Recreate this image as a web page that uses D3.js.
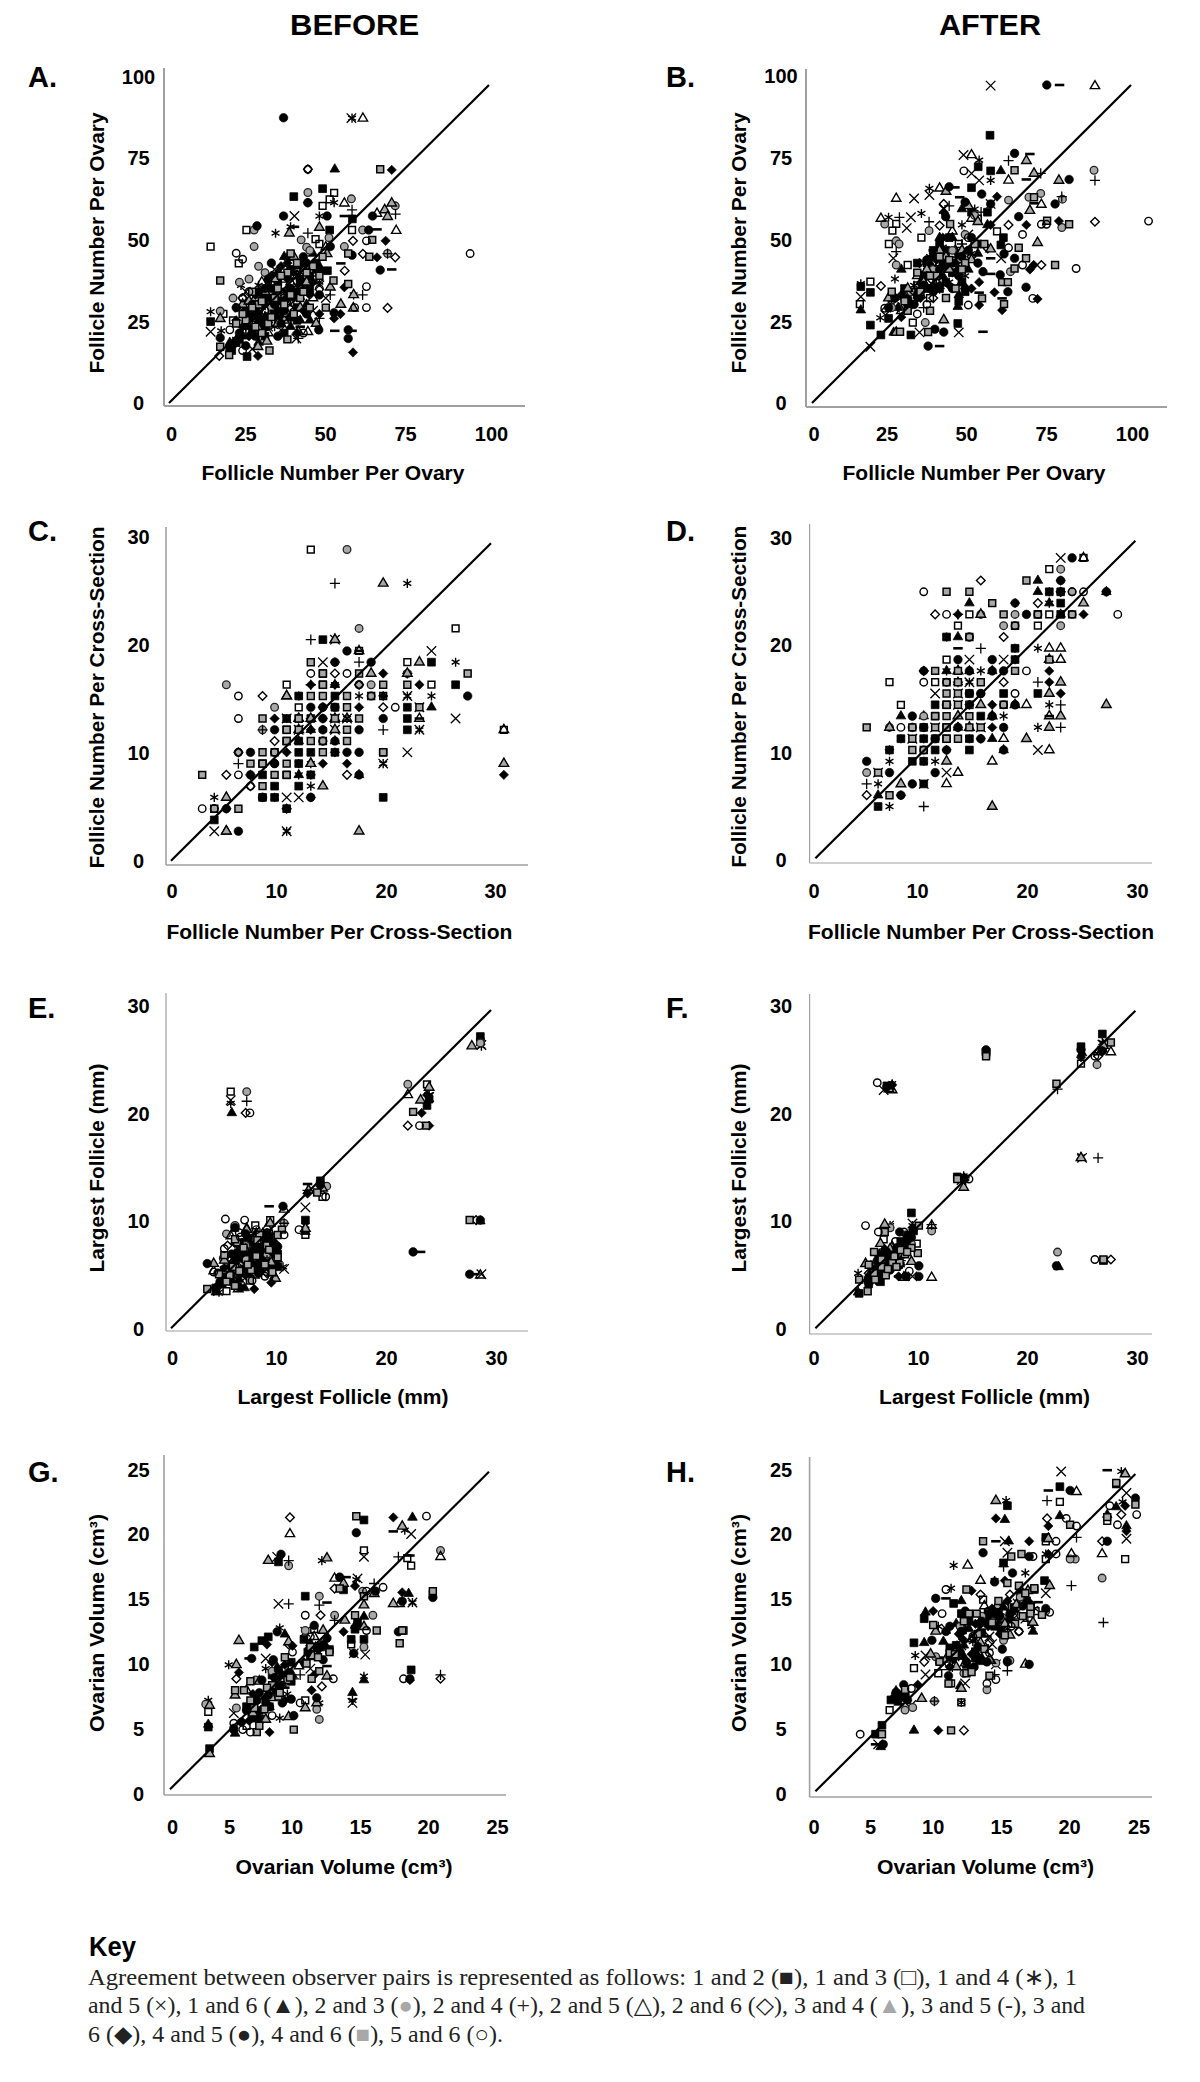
<!DOCTYPE html>
<html><head><meta charset="utf-8">
<script src="https://cdn.jsdelivr.net/npm/d3@7"></script>
<style>html,body{margin:0;padding:0;background:#fff}svg{display:block}text{font-family:"Liberation Sans",Arial,sans-serif}</style>
</head><body>
<svg id="chart" width="1200" height="2082"></svg>
<script>
// Order of series = order of the key: observer pair
const seriesPairs = ["1-2","1-3","1-4","1-5","1-6","2-3","2-4","2-5","2-6","3-4","3-5","3-6","4-5","4-6","5-6"];
const markerKinds = ["squareFill","squareOpen","asterisk","times","triangleFill","circleGray","plus","triangleOpen","diamondOpen","triangleGray","dash","diamondFill","circleFill","squareGray","circleOpen"];
const ticksCount = [0,25,50,75,100];
const ticksSection = [0,10,20,30];
const ticksVolume = [0,5,10,15,20,25];

const panelA = [
[39,64.9,48,67.4,50.2,54.4,57.3,57.9,13,25.6,19.6,16.5,24.4,14.6,49.5,41.6,28,26,34,38,38,46,40,30,22,20,31,33,26,23,36,27,44,36,30,21,42,44,24,29,33,40],
[13,49.2,24.2,54.4,21.8,43.9,51.6,66.1,50.2,64,48,62,45.8,51.5,57.2,54.4,47,50,17,28,20,26,36,42,33,38,25,30,42,38,29,35,37,32,45,41],
[57.2,89.6,51.6,63,47,58.8,38,55.4,33.3,53.4,57.7,34,13,28.7,16.3,22.7,22.5,37,28,37,31,28,36,35,41,41,26,26,33,24,47,38,39,30,21,20],
[57,89.6,39.2,58.8,47,37,13,22.4,39.8,20.3,49,33,24,35,30,33,35,23,41,34,28,22,22,30,37,44,45,29,33,42,26,17],
[51.8,73.5,47.6,41.6,36,46,40,43,30,27,25,24,38,24,33,34,43,31,19,19,28,19,41,26,34,41,45,47],
[43.4,66.2,57,64.2,70.7,62,26.6,54.4,26.6,49.2,41.3,51.3,60.5,54.4,54.8,49.2,43,49,68.3,47,16,28.9,22,38,28,43,25,39,30,41,44,48,50,52,20,33,37,40,32,30],
[57.2,60.7,70.8,59.4,43.4,53.4,60.5,34,50.4,34,47,26.6,40.4,20.3,68.3,47,35,38,29,26,24,22,43,42],
[60.6,89.5,54.8,62.8,65,59.6,71,54.2,43.4,22.4,49,49,29,38,34,31,40,40,25,28,38,38,31,22,45,33],
[43.4,73.5,57.5,51,60.6,46.9,70.7,45.8,54.9,41.6,68.3,29.9,15.7,14.8,23,33,28,29,35,35,41,37],
[69.6,62.8,67.4,60.7,68.3,58.6,37.6,53.4,47,55.2,49.4,46.9,50.4,36.4,53.7,31,57.7,34,57.6,29.8,46,25,40.4,22.4,16,26.5,27.8,17.7,30.6,19.4,33,39,27,33,41,30,36,26,45,43,23,31,39,46],
[54.8,58.8,39.2,55.4,65,54.6,69.6,42,53.7,43.9,51.8,22.7,57.2,22.7,41,24,33,29],
[69.6,73.3,43.4,63,67.7,51,65,45.8,54.8,36.4,53.6,28,51.6,26.6,57.5,15.9,27.8,14.8,33,27,25,21,37,39,44,34,21,26,30,31,47,28,40,22,35,43],
[35.8,89.7,43.4,63,63.6,58.8,35.8,58.8,49.4,58.8,27.5,55.7,62.4,54.4,50.4,49.2,57.2,46.5,66,41.8,51.6,28.4,46.8,23,56,23,56,20.3,16,20.5,21,30,26,31,32,44,38,36,42,46,47,34,30,24,36,29,24,18,43,28,28,35,34,21],
[66,73.5,63.5,51.3,56,47,62.6,46,16,38.5,56,37.4,51.4,38.5,49,30,16,17.7,18.8,15.1,31.4,16.5,37,20,38,47,45,43,41,33,34,36,28,31,31,25,24,26,37,41,21,25,44,30,26,35,47,40,39,28,29,22,33,33],
[43.4,73.5,61.7,51,21,47.1,23,45.2,94.1,47,61.7,36.6,61.7,30,58,30,23,16.5,23,33,25,35,30,29,37,25,42,22,19,23,47,36]
];
const panelAMore = {
0:[27,30,32,36,35,32,38,42,41,38,44,40,30,24,24,25,21,19,36,22,46,44,33,28,40,26],
2:[24,24,35,33,40,37,29,30,44,39],
3:[27,27,32,33,38,31,42,43,31,24],
4:[29,33,37,35,42,36,31,37,26,28,35,27,23,21,39,41,47,43,44,26],
9:[30,35,37,28,43,38,34,25,25,32],
11:[29,25,34,29,39,33,42,29,27,34,32,40,23,24,37,44,45,38,20,18],
12:[28,28,33,31,37,33,40,35,31,39,25,27,35,25,41,39,22,22,38,27,46,42,43,44,30,36,19,17,27,21],
13:[26,30,36,31,42,35,32,27,38,34,35,40,29,32,43,41,23,28,27,24,40,44,48,46]
};
const panelB = [
[55.8,84.2,56,73,52.1,74.3,50,67.7,59.2,49.7,15.3,36.6,18.3,34.8,18.3,24.5,24,26.6,31,21.4,45.7,25,21.6,21.4,60,52,43,52,38,48,47,38,33,44,36,36,50,60,41,44,46,32,29,36,55,60,40,50],
[26.4,56.3,25.2,54.2,24.1,50,34.3,52,18.3,38.2,15,31.1,31.6,25.3,30,43.4,52,58,46,50,33,37,58,54,40,38,37,33,44,47],
[52.4,76.4,56,70,24,58.4,34.3,59.6,36.8,67.5,21.4,26.8,15.3,37.5,26,39,28,33,35,41,41,49,47,56,38,36,45,44,32,37,51,61,25,31,43,38,50,47],
[56,99.8,47.5,78,50,72.2,52.4,70,32,64.3,36.8,65.4,31,58.4,29.7,55,25.5,45.5,15.3,33.4,18.3,17.7,46,22.2,33.7,22.2,41.3,61,59.3,45.5,56,62.6,36,39,42,42,49,53,26,30],
[59.2,73,47,61,38,46,40,52,28,42,46,34,45.7,30.3,15.3,29.2,25.6,22.2,34,38,42,43,55,56,30,33],
[88.4,73.2,78.5,64.1,71.7,65.9,68,64.7,61.6,63.8,22.8,56.3,78.3,55.2,36.7,54.2,26.4,51,27.3,50,26.4,43.4,62.2,41.3,35.5,25.3,48,53,44,48,51,59,38,42,31,35,25,30],
[61.6,76.2,71.7,72.2,88.7,70,78.3,64.9,27.4,58.4,36.7,57,26.4,47.6,43,62,53,60,47,50,40,36,35,30],
[88.7,99.7,50,78,61.6,70,26.4,64.3,40,67.5,71.9,62.4,21.6,58,44,54,50,58,33,40,40,44,47,38,28,29],
[40,55.8,41.3,62.6,61.6,56,55.1,48.6,71.9,43.4,88.7,57,21.6,36.8,23,29,38,33,50,46,32,35],
[67.2,76.2,69.6,72.2,77.4,70,42,66.5,68.3,60.5,70.7,50.4,56,48.4,41.3,26.1,26.4,22.2,49,62,47,48,35,38,40,48,30,36,24,33,52,57,43,42],
[67.2,70.3,68.3,78.3,44.8,67.8,46.3,64.7,69.6,62.8,77.6,100,40,17.9,53.6,22.4,52.4,34.7,59.6,32.9,56,40.6,56,45.5,38,48],
[58,64.9,41.3,60,67.2,56,77.4,57.2,68.3,42,69.5,43.4,70.7,32.7,57.2,34.8,52.4,30.8,59.6,29.2,52.4,38,56,56,45,44,34,33,48,36,40,37,28,27],
[73.6,100,63.5,78.5,43,68,53.2,65.7,48,63.2,56,62.6,76.2,62.6,80.6,70.3,41.9,58.6,64.8,58.6,60.2,46.9,63.5,45.5,67.1,36.4,61.4,35,53.6,41.3,59,40.3,36.4,17.9,38.5,23.2,41.3,22.3,38,46,33,34,46,40,44,36,30,31,50,52,24,30],
[63.5,73.2,73.7,57.3,69.6,64.7,80.6,56.2,43.3,56.3,64.8,48.8,67.1,45.5,63.5,42.3,76.2,43.4,60.2,31.1,53.3,32.9,59.6,38,61.4,38,36.4,22.3,27.6,22.4,54,50,48,44,39,40,34,35,42,33,25,35,30,29,37,29],
[47.6,73,66,53,71.9,56.2,73.5,56.2,61.6,48.8,66,43.4,82.8,42.3,105.5,57.2,69.2,32.9,49,30.8,22.8,29.8,49,52,36,31,33,28]
];
const panelBMore = {
0:[35,40,38,42,42,48,44,41,48,44,33,35,36,44,52,50,46,46,30,32,40,36,25,33,48,35],
2:[39,39,44,41,30,34,37,46,48,40],
3:[40,40,35,44,46,48,30,31],
4:[37,44,41,40,34,36,45,48,49,42,38,37,27,30,44,52,52,47],
9:[42,46,36,42,46,45,50,45,34,34],
11:[39,45,43,37,36,40,46,42,33,33,50,36,28,34,41,52],
12:[35,37,40,42,44,44,38,35,47,46,32,31,42,38,48,36,36,45,26,33,52,44,49,48],
13:[37,40,43,45,33,41,47,42,40,46,29,32,51,50,45,36]
};
const panelC = [
[13,20,22,18,13,17,13,16,24,16,11,15,14,15,14,14,20,14,10,13,12,13,20,13,10,12,20,12,10,11,11,11,11,10,12,10,14,10,18,10,8,9,11,9,8,8,10,8,12,8,9,7,11,7,8,6,9,6,18,6,10,5,4,4],
[12,28,16,19,20,18,22,16,24,21,10,16,11,14,28,12,11,13,18,15],
[20,25,24,18,20,17,14,16,11,15,16,15,20,15,22,15,10,13,15,13,13,12,21,12,11,9,18,9,12,9,11,8,12,7,4,6,8,6,9,6,10,3],
[22,19,13,18,20,15,21,14,10,13,24,13,14,12,15,13,11,12,21,12,14,20,14,13,20,10,18,9,10,6,11,6,4,3,10,3],
[14,16,22,14,11,13,12,12,14,11,11,8,16,8,5,3,11,11],
[15,28,16,21,9,14,20,17,5,16,16,16,17,16,8,12,13,11,9,10,6,10,9,9,4,5],
[14,25,12,20,16,18,20,17,12,13,12,16,18,12,6,9,7,8,8,12],
[14,20,16,19,10,15,21,13,28,12,5,3,15,13,12,9],
[14,17,8,15,18,14,9,11,5,8,6,10,7,7,15,8,10,5,16,16],
[18,25,14,20,21,18,17,17,20,17,10,15,12,13,11,13,14,13,14,12,12,9,28,9,13,7,5,6,16,3,5,3,11,12],
[16,19,21,13],
[14,18,18,17,21,16,18,15,13,14,16,14,9,13,13,13,12,12,14,10,10,10,13,9,15,9,12,8,28,8,5,5,12,6,13,14,12,16,14,16],
[15,19,14,18,17,18,12,14,13,14,13,13,18,13,9,12,13,12,16,12,14,11,7,10,15,10,16,10,9,9,7,8,25,15,14,14,16,8,12,6,8,6,5,5,6,3],
[12,18,13,17,16,17,25,17,18,16,20,16,12,15,13,15,15,15,17,15,15,14,21,14,8,13,11,13,16,13,10,12,11,12,15,12,10,11,12,11,13,11,15,11,8,10,9,10,13,10,18,10,7,9,8,9,10,9,3,8,9,8,10,8,8,7,4,5,6,5,14,13,13,16],
[12,17,15,17,16,16,6,15,19,14,17,15,6,13,3,5,6,8,7,7,9,10,6,10,13,11,4,5]
];
const panelD = [
[22,24,21,24,22,23,22,22,12,20,18,19,18,18,14,15,17,15,20,15,11,14,12,14,14,14,15,13,11,13,10,12,12,12,8,11,10,11,11,11,12,11,14,11,7,10,11,10,14,10,9,9,10,9,10,7,6,5],
[24,27,21,26,14,22,21,22,13,21,20,21,12,18,7,16,11,16,8,14,20,22],
[21,24,21,23,12,20,18,19,20,19,12,17,15,17,14,16,21,14,17,13,20,12,14,11,8,11,10,11,7,9,10,9,11,9,6,7,7,5,18,18],
[22,27,14,18,17,18,11,15,13,15,14,16,15,12,13,14,11,12,20,10,12,8,6,8,10,7,9,11],
[20,25,20,24,26,24,21,23,14,23,22,22,13,20,21,18,12,17,13,17,14,17,16,17,13,16,8,13,10,13,16,11,17,10,6,6,13,12],
[22,26,23,24,18,23,15,22,18,22,17,21,22,21,10,17,15,15,18,14,10,13,14,14,7,12,5,8,14,20],
[15,19,20,16,22,14,22,12,5,7,10,5,13,22,13,16],
[24,27,21,19,22,19,22,18,21,13,18,14,21,10,16,9,13,8,12,7,16,13,17,11,19,14],
[15,25,20,23,11,22,17,20,10,17,17,16,5,6,22,24],
[24,23,15,22,21,18,22,16,21,15,26,14,22,13,21,12,14,12,15,14,7,12,19,11,12,9,8,7,16,5,13,13,13,17],
[21,13,12,14,13,19],
[18,23,22,25,13,22,24,22,21,17,21,16,22,15,16,14,14,14,10,17,13,12,16,12,15,11,12,10,7,10,8,6,26,24],
[23,27,22,25,26,24,19,22,13,18,16,18,14,17,16,17,17,17,15,15,18,14,9,13,16,13,9,12,10,12,13,12,17,12,11,11,15,11,12,10,17,10,5,9,7,8,11,8,9,7,8,6,14,15],
[19,25,12,24,14,24,16,23,17,22,20,22,23,22,18,21,14,20,11,17,18,17,13,17,21,18,12,16,13,16,15,16,12,15,13,15,12,14,13,14,17,14,11,13,12,13,14,13,5,12,9,12,11,12,12,12,14,12,15,12,9,11,12,11,13,11,9,10,10,10,6,8,7,6],
[10,24,22,24,24,24,23,24,12,22,20,22,27,22,23,22,18,21,14,20,19,17,10,16,12,16,18,15,17,14,8,12,10,10]
];
const panelE = [
[29,27.5,29,27,24,21,24.2,21.6,12.6,10.2,14,13.9,4.2,3.8,6,9.5,7,7,8,6,9,8,10,5.8,5,5,6,6.2,7.5,8.5,4.8,4.2,9.4,7.4],
[5.6,22.3,24,23,12.6,8.8,14.2,12.4,9.3,10.2,7.9,9.7,5.2,3.5,6.5,5.5,8.5,7.8,5,6.5,9.8,6.5],
[5.6,21.2,29.1,26.6,24.2,22,12.6,9.7,10.5,5.8,4.5,3.4,5.5,5.5,7.5,8,9,9,7,6,8.5,5.2,6,4.2],
[5.6,21.5,29.1,26.7,24.2,21.8,12.6,11.4,29.1,5.1,10.6,5.6,4.4,3.5,8,7.5,5.5,6.8,9.5,8.5,7,4.8,14.2,13],
[5.7,20.3,29,10.1,12.6,9.1,6.9,3.8,9.7,4.9,4.2,3.4,6,7,8,9,9.2,6.2,5.4,5,7.5,6.3],
[7.1,22.3,22.2,23,29,26.9,14.6,13.4,6,9.7,5.2,8.9,10.6,9.9,7,7.8,9,7,6,5.8,8,8.4,4.9,6.6],
[7.1,21.4,10.6,9.9,8,9,6.5,7,9,6.4,5.6,5.2,12.8,13],
[22.2,22,5.6,8.7,29,5,10.6,11.2,7.1,9.4,9,9.5,6,6,8.3,5.6,4,5.4,7.8,7.2],
[7,20.3,22.2,19.1,28.6,10.2,8,7,6.2,5,9,5.2,5.3,7.8],
[28.2,26.6,24.2,22.7,23.4,21.5,12.9,13,12.6,9.4,14.2,13.2,9.3,9.9,7.1,9.3,4,6.1,6.3,3.7,8.2,8.3,9.4,6.2,5.2,5.4,7,7.4,9.8,4.7],
[9.2,11.5,12.8,13.6,23.4,7.2,28.5,5.1,7,8.4,5.8,6.3,8.8,7.7],
[23.5,20.3,24.2,19.1,24,22,12.8,12.7,7.8,3.7,9.4,4.3,7.4,4.9,14,13.4,6,8,8.8,6.2,5,5.7,9.6,7],
[3.4,6.1,10.5,11.5,29,10.2,22.7,7.2,28,5.1,14,13.7,6,9.5,6.4,3.9,8,7,9,9,7,5.5,5,4.6,10,7.7,6.5,6.6,4.4,5.2],
[22.7,20.4,23.9,19.1,28,10.2,13.7,12.8,10.4,9.3,4.5,5.1,3.4,3.7,5,6.9,6,4,7,6.5,8,6.8,9,7.8,7.5,5.5,9.5,5.3,6.2,8.1,8.3,8.8,5.5,5,10,6.7,6.8,7.6],
[7.4,20.3,23.3,19.1,5.1,10.3,6.9,10.2,12,9.3,14.5,12.4,10.6,8.8,4,5.3,5,7.5,6.5,8.6,8.8,4.9,9.6,8,7.6,4.5]
];
const panelEMore = {
0:[5.5,4.5,6.5,5.2,7.2,6.2,8,7.5,8.6,8,9.2,8.5,6,6.8,7,8,5,5.5,9.6,6,8.4,5.8,10,7],
2:[6,5.2,7.4,7.3,8.3,6.2,9.5,8.9],
3:[6.7,5.8,7.9,6.6,5.9,4.6,9,7.6],
4:[6.4,4.6,7.5,5.7,8.8,7,5.6,6,9.4,8,8,8.6,6.8,7.5,4.8,4.4,10,6.5],
9:[6.6,6.6,7.8,5,5,6.4,8.6,8.9,9.4,5.2],
11:[5.8,4.2,7,5,8.5,6.5,6.2,7.2,9.2,5.6,7.8,7.9,5.3,4.8,9.8,8],
12:[5.6,5,6.8,5.6,7.6,6.8,8.4,7.3,9,8.3,6.4,7.9,4.6,4.4,8.2,5.2,9.6,7.2,7,8.9,5.7,7],
13:[5.8,5.8,7.2,6,8.8,6,6.4,5.4,8.1,8.3,9.2,7.4,7.4,4.5,5.2,4.4,6,8.4,10,8.8],
14:[8,9.3,6.4,9]
};
const panelF = [
[6.7,22.9,16,26.1,24.9,26.6,26.9,27.8,27,6.4,13.3,14.3,9,10.9,4.1,3.3,6.1,4.4,7,7,8,8.2,6,5.7,8.7,8.8,9.2,9.2,5,4.6,7.4,6],
[16,25.9,24.9,25,5.5,5.5,7,6.2,8,7.4,9.5,8,6.4,8.4],
[7.2,23.1,26.9,27,13.9,14.4,9.1,9.7,4,5.2,24.9,16.2,7,9.7,6.5,6.3,8,6,8.8,9,6,4.8,5.2,6],
[6.4,22.5,26.9,26.8,13.7,14,9.1,9.9,9.1,4.9,25,16.1,6.9,9.7,7.8,6.7,6,5.4],
[7,22.8,25,26,22.8,5.8,4,3.4,26.9,26.4,7,6.5,8.2,7.9,6,6,5,5],
[16,26,22.7,7.2,26.4,24.9,10.9,9.2,7,9.5,8.2,7,5.3,5.8,7.6,6,9,8],
[22.7,22.6,26.5,16.1,10.9,9.8,14,14.2,6,7,8,6.4],
[7.2,22.5,27.7,26.1,10.9,4.8,26.5,26.1,10.9,9.7,8.3,4.8,6.2,5.5,7.2,7.7],
[26.5,25.7,27.7,6.5,5,5.2,7,5.8],
[6.9,22.6,27,26.7,24.9,16.1,13.9,13.3,6.1,8,6.5,9.8,4.7,6.1,8.3,4.8,9,6.3,7.2,7,5.6,4.6,8.4,8.2],
[7.8,4.9,6,4.9],
[7.2,23,24.9,25.6,26.9,26.2,7.8,4.9,14,14,9.2,9.3,8,6,6.5,7.5,5,4.2],
[6.7,22.8,16,26.3,24.9,26.3,26.9,26.2,22.6,5.9,9.7,4.9,9.7,5.9,8.5,4.9,7.9,9.1,13.9,14.2,6.6,7.2,5.8,5,7.6,7.6,8.6,8.7,7,5.5],
[16,25.7,22.6,23.1,27.7,27,27,6.5,13.3,14.1,9.7,9.7,6.5,9.1,9.6,7.1,5.5,7.2,4.1,4.6,4.9,3.5,6.2,6.5,7.2,6.2,8.4,7,5.5,5.2,7.9,6.2,6.6,5,5,6,9,7.6],
[5.8,23.2,26.2,25.7,26.2,6.5,14.4,14.1,4.7,9.7,5.9,9.1,8.3,9.1,8.8,5.4,7.5,8.2]
];
const panelFMore = {
0:[5.5,5,6,6,6.5,5.5,7,6.5,7.5,7,8,7,8.5,8,6,4.5,6.5,7,7.8,6,5,4.2],
2:[6.4,6.6,7.7,7.1,8.9,8.5],
3:[6.1,5.1,7.3,6],
4:[5.2,5,5.8,5.8,6.6,6,7.2,6.2,7.8,7.4,8.4,7.6,6,7,5,4.6],
9:[5.8,5.3,7,7.5],
11:[5.5,5.6,6.3,6.2,7,5.8,7.6,6.5,8.2,8,6.8,7.2],
12:[5.8,6.4,6.4,5.6,7.1,6.8,7.9,7.7,8.6,8.3,9,8.6,6.7,6.1],
13:[6.2,5.8,7.4,6.8,8,7.4,6.8,5.6,5.6,4.6,7.6,5.8,8.6,7.2]
};
const panelG = [
[15.2,21.2,8.5,17.9,10.6,15.2,14.7,13.1,15.2,11.8,14.2,11.8,18.9,9.4,3,4.9,3.1,3.2,6.6,11.2,7.7,12,7.2,11.7,13.6,15.7,14.5,12.6,8,9,6,6.5,9.5,8.5,11,10.5,7,5.5,10.5,11.8,12.5,11],
[15.2,18.8,18.6,18.2,18.9,17.6,14.2,11.4,3,6.1,18.3,12.5,20.6,15.4,10.6,7,7.8,6.5,11.3,12.6,6,5,9,9.4],
[11.9,18,18.4,20.4,8.6,12.7,4.6,9.8,3,7,14.3,7,15.2,8.9,19,14.7,14.6,16.5,11.7,6.8,8.6,5.6,7.5,9.5,11,10.8,9.2,7.5],
[8.4,18.3,15.2,18.3,18.9,20.1,8.5,14.6,14.7,16.6,7.5,10.3,14.3,6.8,15.3,10.6,14.4,10.7,19,14.7,5,6,10.6,12.4,8.8,9,11,9.5],
[19,21.4,14.5,12.9,15.2,13.6,18.7,15.4,15.2,8.6,14.3,7.6,3,5.1,5.1,4.4,8.3,8.2,9,12.2,6.7,7,11.4,11.2,7.8,6.5],
[21.2,18.8,9.3,17.6,11.7,15.2,12.9,13.7,15.9,13.7,15.1,15.6,15.2,11.2,11.7,5.5,11.5,6.3,2.8,6.7,10.6,12.5,8,9.3,5.2,6.4,6.7,8.6],
[9.3,18,17.9,18.3,16,16.2,9.3,14.6,11.7,14.5,12.9,13.3,10.2,9,21.2,9,9.7,8.7],
[9.4,20.1,21.2,18.3,12.9,16.6,10.1,9.7,11.3,12,6,7.8,18,14.6,7.2,6],
[9.4,21.4,12.9,15.8,11.8,13.7,21.2,8.7,11.9,8.1,9.3,11.4,5.2,8.7,11.6,11],
[7.7,18,12.3,18.2,18.2,20.7,13.6,16.2,16,15.4,17.5,14.6,15.2,14.5,13.7,13.3,15.2,12.8,5.4,11.7,5.2,9.8,5.1,7.4,3.1,6.6,3.1,2.8,9.3,5.7,10.6,6.4,11.5,6.8,12.3,8.9,12,12.5,9.3,11.6,6.5,6,7.5,5.5,11.2,10.5],
[18.8,18.4,17.5,20.3,13.8,16.7,12.3,14.7,12.3,9.7,6.2,10.3,7,6.2,9,8],
[17.5,21.4,13.6,12.4,14.5,16,18.2,15.5,18.8,8.6,7.8,4.5,7.6,11.4,5.4,9.2,8,10,11.1,7.8,11.6,11,6.5,7.5,9,7,5,4.6,9.6,11.3],
[14.6,20.2,8.7,18.5,13.3,16.7,16.1,15.6,18.2,14.8,20.6,15.1,17.9,12.4,11.3,12.9,14.4,10.7,6.4,10.3,8.1,10.2,8.4,12.4,18.8,8.7,9.7,5.8,12.3,11.9,5.6,5.3,7.2,8.6,9.5,7.1,11.5,7.2,6.8,7,8.5,9.4,12,10.2,5,4.8,7.8,6.5],
[14.6,21.5,13.3,15.8,15.2,15.2,20.6,15.6,18.2,12.5,18,11.5,16.2,12.5,14.5,13.7,11.7,9.3,11.1,8.7,9.7,4.7,6.8,4.5,5.1,7.8,5.8,7.8,6.3,8.5,9,10.4,12.5,10.8,11,11.2,6.3,7,7.4,6.3,8.5,7.3,7,5,9.2,8.6,8,8.2],
[20.1,21.5,16.7,15.9,15.4,15.6,15.4,12.5,12.8,8.7,10.6,13.7,10.2,6.8,18.3,8.7,9.6,10.8,6.3,4.5,5.7,4.7,8,5.8,5,5.2,8.8,8.2,11,12]
];
const panelGMore = {
0:[7.5,7,8.3,7.8,8.8,9,7,6.2,9.5,10,10.8,10.8,11.8,11.2,6.5,5.6],
2:[8.2,9,7.5,6.7],
3:[8.6,9.4,11.5,11],
4:[7.8,8,8.4,9.6,9.6,9,6.8,6,11,11.5,12.2,11.3],
9:[8,7.2,7,8.5],
11:[7.3,6.4,8.7,8.2,9,9.8,10.5,10,11.3,9,6.2,5.4],
12:[7,7.6,8.2,8.8,9.3,9.2,7.7,7.4,10.9,11,12,11.4,6,6.2,8.8,6.8],
13:[7.6,8,8.6,7.6,9.4,8.8,6.6,6.4,11.6,10.4,10.7,9.9]
};
const panelH = [
[19.1,24,15,22.5,18,20,14.7,18,17.9,16.6,17.1,15.9,10.8,14.8,8.5,13.6,7.7,11.7,5.2,5.2,4.7,4.5,5.9,7.2,11.4,14,14.3,14,10.5,10.8,12.5,10.5,14.5,12.8,16,15.7,13.4,13.6,9.7,10.3,11.5,12.7],
[19.1,22.8,23.5,24.2,24.2,18.3,22.8,21.3,18,18.3,18,19.7,7.7,9.7,10.6,8.5,5.8,6.4,11.4,7,16.2,15,17.2,14.2,13.1,15.1,11,11.2,14.8,14.6,9.6,9.3],
[23.9,25.2,14.9,22.9,24,22.8,18,18.7,10.8,17.8,10.6,16,14,16.6,16.4,17.2,17.1,14.4,7.8,10.7,11.4,7,13.1,13.6,15,12.8,10.8,11,12.3,11.8,15.8,14.2,9.6,13,16.9,13],
[19.2,25.2,24.3,23.5,24.3,19.9,14.8,19.7,15,18.8,18,15.6,8.6,10.7,8.6,9.2,11.7,8.5,7.5,6.8,14.1,10,10.2,12.8,12,13.6,16.4,13.6,11.4,11.5,13.6,12.2,15.2,14,4.9,3.7],
[14.8,21.4,19.1,21.7,15.1,19.7,22.8,21.8,23.5,22.4,24.3,20.9,17,12.6,11.4,15,8.6,14.1,8.5,11.7,7.7,4.8,11.3,8.3,6.3,7.9,5.1,3.5,11.5,13,10,11.8,13.5,13.3,11.6,10.6,14.7,14.5],
[22.4,16.8,20.3,18.3,19.9,18.3,14.7,11.9,15,10.3,14.1,10.1,13.4,8,9.3,7.1,7,6.4,7.6,6.6,18,14.2,13,13.8,11.3,13,9.4,10.6,16,15.3,14.6,13.7,11.6,9.3,15.2,10.3],
[18.1,22.9,20,16.2,20.4,20,22.5,13.3,14.7,17.7,15,9.5,14,9.2,9.3,7.1,10.7,9.8,13.5,11.2,16.6,13.4],
[20.4,23.6,11.9,17.8,12.9,16.6,22.4,18.7,20,18.7,16.4,10,18.2,19.9,15.5,13.8,12.2,12,10,9.8,13.2,14.6],
[18.1,21.5,23.9,21.8,22.4,19.7,12.9,15.5,15.9,12.6,13.6,11.7,11.6,4.8,15.2,15.5,8.5,10.2,12.7,10.6],
[14.1,22.9,24.2,25,18.2,19.9,18.3,16.2,9.4,12.6,9,10.8,8.3,7.3,15.2,12.3,17,13.3,13.7,10.3,11.4,8.1,10.2,10.4,16.6,15.8,14.2,14.6,11.7,10.1,12.9,11.7],
[22.8,25.3,18.2,23.7,14.1,19.7,10.2,15.2,4.7,3.7,17.4,14.9,13.4,12.2],
[24.2,22.5,24.3,20.5,14.1,21.5,18.2,20.9,16.7,19.7,18.2,18.7,12.2,15.8,9.2,14.2,8,8.4,9.6,4.8,13.5,13,11.2,12.4,15.5,14.2,10.5,9.8,14.8,16.6,6.5,7.5,16.8,14.8],
[25,23.1,19.9,23.7,22.8,19.7,13.1,18.8,15.4,17.2,16.7,18.5,9.4,15.2,10.2,12.6,9.1,11.9,6.9,8.4,5.3,3.7,16.7,10,15,10.2,10.4,9.1,14.4,13.8,14,16.5,18,14.4,12.8,13.2,11.4,12.6,10.5,10.6,11.8,10.2,13.4,10.2,7,7.6],
[22.8,21.6,25,22.6,23.5,24.3,19.9,21,13.1,19.7,15.3,18.5,16.1,18.7,17.1,16,11.8,15.9,17.7,13.9,9.2,13.1,5.2,4.5,7,8,10.4,8.5,10.6,4.8,13.6,9.1,15,16.4,15.9,16.2,12,14,13.8,13.3,10.5,10.9,12.7,12.4,14.8,12.3,16.2,13.8,9.7,10.2,11.8,9.3,16.8,14.5],
[25.1,21.8,23,22.5,23.6,21,19.6,21.5,20.4,20.9,18.8,19.7,18.8,18.7,17,18.5,10.2,15.9,9.9,14,3.5,4.5,18.3,14.1,13.6,10.9,14.1,8.8,13.4,8.5,7.5,8.1,15.9,12.6,12.3,12.2,13.5,14.2,15.3,13]
];
const panelHMore = {
0:[11,11.5,12,13.4,13.5,14,14.5,13.5,15.5,14.5,12.5,11,11.8,10,14,13,16.5,15,10.5,11.3,13,12.5,6.2,7.3,6.5,7.6,7,7.4],
2:[14.2,13.6,12.5,12,11.2,10.6,15.4,13.6],
3:[12.8,12.9,13.8,11.6,15.8,14.8,7,7],
4:[12,12.8,13,10.5,14.2,13,11,13.2,15,13.5,11.6,11.5,12.8,10.2,6.5,7,7,8],
9:[13.6,10.4,12,9.4,14.8,13.2,15.7,14.7,11,9.8],
11:[11.5,12,12.5,13.2,13.8,14.4,15,15,10.8,10.4,12.2,10.8,14.4,12.4,6.6,7.3],
12:[11.3,11,12.7,11.4,14,14,15.2,14,13,13.4,10.5,13,11.7,14.2,16.2,14.6,12.4,9.8,14.6,11.2,6.3,7.8,7.2,7.2],
13:[11.6,13.4,12.6,14,14.3,15,15.6,13.2,16.8,14,13.2,11.2,10.9,10.8,12.2,9.4,16.4,15.6]
};
const withMore = (base,more)=>base.map((s,i)=>s.concat(more[i]||[]));

// Layout: plot rectangle (axes), printed tick-label positions, diagonal end points
const panelLayout = [
 {key:"A.",lx:28,ly:87,pts:withMore(panelA,panelAMore),grid:false,ticks:ticksCount,dmax:100,px:[164,525],py:[406,68],tx:[171,245,325,405,491],ty:[402,321,239,157,76],tickY:434,tickX:138.5,diagX:[169,489],diagY:[403,85],title:"Follicle Number Per Ovary",tcx:333,tcy:472,tw:263,ycx:96,ycy:243,yw:261,axisW:2},
 {key:"B.",lx:666,ly:87,pts:withMore(panelB,panelBMore),grid:false,ticks:ticksCount,dmax:100,px:[806,1167],py:[407,69],tx:[813.5,886.5,966,1046,1132],ty:[402,321,239,157,75],tickY:434,tickX:781,diagX:[812,1131],diagY:[403,85],title:"Follicle Number Per Ovary",tcx:974,tcy:472,tw:263,ycx:738.5,ycy:243,yw:261,axisW:2},
 {key:"C.",lx:28,ly:541,pts:panelC,grid:true,ticks:ticksSection,dmax:30,px:[166,528],py:[865,527],tx:[171.5,276,386,495],ty:[860,752,644,536.7],tickY:890.7,tickX:138.5,diagX:[171,491],diagY:[860.7,543.3],title:"Follicle Number Per Cross-Section",tcx:339.4,tcy:931.7,tw:346,ycx:96,ycy:697.5,yw:342,axisW:1.6},
 {key:"D.",lx:666,ly:541,pts:panelD,grid:true,ticks:ticksSection,dmax:30,px:[809.6,1152],py:[863,524],tx:[813.5,917,1027,1137],ty:[859,752,644,537],tickY:890.7,tickX:781,diagX:[815.4,1135.4],diagY:[858.3,540.7],title:"Follicle Number Per Cross-Section",tcx:981,tcy:931.7,tw:346,ycx:738.5,ycy:696.7,yw:342,axisW:1.2},
 {key:"E.",lx:28,ly:1018,pts:withMore(panelE,panelEMore),grid:false,ticks:ticksSection,dmax:30,px:[166,528],py:[1331,993],tx:[172,276,386,496],ty:[1328,1220,1113,1005],tickY:1358,tickX:138.5,diagX:[171,491],diagY:[1328.3,1010],title:"Largest Follicle (mm)",tcx:343,tcy:1396,tw:211,ycx:96,ycy:1168,yw:209,axisW:1.2},
 {key:"F.",lx:666,ly:1018,pts:withMore(panelF,panelFMore),grid:false,ticks:ticksSection,dmax:30,px:[809.6,1152],py:[1334,994],tx:[813.5,918,1027,1137],ty:[1328,1220,1113,1005],tickY:1358,tickX:781,diagX:[815.4,1135.4],diagY:[1328.3,1010.7],title:"Largest Follicle (mm)",tcx:984.6,tcy:1396,tw:211,ycx:738.5,ycy:1168,yw:209,axisW:1.2},
 {key:"G.",lx:28,ly:1482,pts:withMore(panelG,panelGMore),grid:false,ticks:ticksVolume,dmax:25,px:[164,506],py:[1795,1455],tx:[172,229,291.5,360,428,497],ty:[1793,1728,1663,1598,1533,1469],tickY:1827,tickX:138.5,diagX:[170,489],diagY:[1789.3,1471.7],title:"Ovarian Volume (cm³)",tcx:344,tcy:1866,tw:217,ycx:96,ycy:1623,yw:218,axisW:1.6},
 {key:"H.",lx:666,ly:1482,pts:withMore(panelH,panelHMore),grid:false,ticks:ticksVolume,dmax:25,px:[809.6,1152],py:[1797,1457],tx:[813.5,870,932.7,1001,1069,1138.5],ty:[1793,1728,1663,1598,1533,1469],tickY:1827,tickX:781,diagX:[815.4,1135.4],diagY:[1791.3,1474],title:"Ovarian Volume (cm³)",tcx:985.6,tcy:1866,tw:217,ycx:738.5,ycy:1623,yw:218,axisW:1.6}
];

const dashSymbol = {draw(ctx,size){const w=Math.sqrt(size)/2,h=1.3;ctx.moveTo(-w,-h);ctx.lineTo(w,-h);ctx.lineTo(w,h);ctx.lineTo(-w,h);ctx.closePath();}};
const GRAY="#a8a8a8",INK="#000";
const markerStyle = {
 squareFill:{t:d3.symbolSquare,s:60,fill:INK,stroke:INK,w:.8},
 squareOpen:{t:d3.symbolSquare,s:46,fill:"none",stroke:INK,w:1.5},
 asterisk:{t:d3.symbolAsterisk,s:58,fill:"none",stroke:INK,w:1.4},
 times:{t:d3.symbolTimes,s:60,fill:"none",stroke:INK,w:1.3},
 triangleFill:{t:d3.symbolTriangle,s:40,fill:INK,stroke:INK,w:.8},
 circleGray:{t:d3.symbolCircle,s:46,fill:GRAY,stroke:"#222",w:1.3},
 plus:{t:d3.symbolPlus,s:36,fill:"none",stroke:INK,w:1.3},
 triangleOpen:{t:d3.symbolTriangle,s:38,fill:"none",stroke:INK,w:1.4},
 diamondOpen:{t:d3.symbolDiamond2,s:48,fill:"none",stroke:INK,w:1.4},
 triangleGray:{t:d3.symbolTriangle,s:40,fill:GRAY,stroke:INK,w:1.4},
 dash:{t:dashSymbol,s:90,fill:INK,stroke:"none",w:0},
 diamondFill:{t:d3.symbolDiamond2,s:56,fill:INK,stroke:INK,w:.6},
 circleFill:{t:d3.symbolCircle,s:58,fill:INK,stroke:INK,w:.6},
 squareGray:{t:d3.symbolSquare,s:48,fill:GRAY,stroke:INK,w:1.5},
 circleOpen:{t:d3.symbolCircle,s:44,fill:"none",stroke:INK,w:1.4}
};

const svg = d3.select("#chart");
function fitText(sel,w){return sel.attr("textLength",w).attr("lengthAdjust","spacingAndGlyphs");}

fitText(svg.append("text").attr("x",354.6).attr("y",35).attr("text-anchor","middle").attr("font-size",30).attr("font-weight","bold").text("BEFORE"),129);
fitText(svg.append("text").attr("x",990).attr("y",35).attr("text-anchor","middle").attr("font-size",30).attr("font-weight","bold").text("AFTER"),102);

panelLayout.forEach(p=>{
  const g = svg.append("g");
  g.append("text").attr("x",p.lx).attr("y",p.ly).attr("font-size",29).attr("font-weight","bold").text(p.key);

  const labelX = d3.scaleLinear().domain(p.ticks).range(p.tx);
  const labelY = d3.scaleLinear().domain(p.ticks).range(p.ty);
  const diagXS = d3.scaleLinear().domain([0,p.dmax]).range(p.diagX);
  const diagYS = d3.scaleLinear().domain([0,p.dmax]).range(p.diagY);
  // counts per cross-section sit on the integer grid of the plot frame
  const x = p.grid ? d3.scaleLinear().domain([0,30]).range(p.px) : diagXS;
  const y = p.grid ? d3.scaleLinear().domain([0,30]).range(p.py) : diagYS;

  // axis frame
  g.append("line").attr("x1",p.px[0]).attr("x2",p.px[0]).attr("y1",p.py[0]).attr("y2",p.py[1]).attr("stroke","#a0a0a0").attr("stroke-width",p.axisW);
  g.append("line").attr("x1",p.px[0]).attr("x2",p.px[1]).attr("y1",p.py[0]).attr("y2",p.py[0]).attr("stroke","#a0a0a0").attr("stroke-width",p.axisW);

  // tick labels
  const ax = g.append("g").attr("transform",`translate(0,${p.tickY})`).call(d3.axisBottom(labelX).tickValues(p.ticks).tickSize(0).tickFormat(d3.format("d")));
  const ay = g.append("g").attr("transform",`translate(${p.tickX},0)`).call(d3.axisLeft(labelY).tickValues(p.ticks).tickSize(0).tickFormat(d3.format("d")));
  ax.select(".domain").remove(); ay.select(".domain").remove();
  ax.selectAll("text").attr("y",0).attr("dy","0.36em").attr("text-anchor","middle");
  ay.selectAll("text").attr("x",0).attr("dy","0.36em").attr("text-anchor","middle");
  [ax,ay].forEach(a=>a.selectAll("text").attr("font-family","Liberation Sans").attr("font-size",20).attr("font-weight","bold").attr("fill","#000"));

  // axis titles
  fitText(g.append("text").attr("x",p.tcx).attr("y",p.tcy).attr("dy","0.36em").attr("text-anchor","middle").attr("font-size",21).attr("font-weight","bold").text(p.title),p.tw);
  fitText(g.append("text").attr("transform",`translate(${p.ycx},${p.ycy}) rotate(-90)`).attr("dy","0.36em").attr("text-anchor","middle").attr("font-size",21).attr("font-weight","bold").text(p.title),p.yw);

  // markers, in key order
  p.pts.forEach((flat,i)=>{
    const st = markerStyle[markerKinds[i]];
    const rows = d3.range(0,flat.length,2).map(k=>[flat[k],flat[k+1]]);
    const sym = d3.symbol().type(st.t).size(st.s);
    g.append("g").attr("class","s"+seriesPairs[i]).selectAll("path").data(rows).join("path")
      .attr("transform",d=>`translate(${x(d[0])},${y(d[1])})`)
      .attr("d",sym).attr("fill",st.fill).attr("stroke",st.stroke).attr("stroke-width",st.w);
  });

  // line of agreement
  g.append("path").attr("d",d3.line().x(d=>diagXS(d)).y(d=>diagYS(d))([0,p.dmax])).attr("fill","none").attr("stroke","#000").attr("stroke-width",2.2);
});

// Key
fitText(svg.append("text").attr("x",89).attr("y",1956).attr("font-size",27).attr("font-weight","bold").text("Key"),47);
const keyLines = [
 {y:1985,w:989,parts:[["Agreement between observer pairs is represented as follows: 1 and 2 ("],["■"],["), 1 and 3 ("],["□"],["), 1 and 4 ("],["∗"],["), 1"]]},
 {y:2013,w:997,parts:[["and 5 ("],["×"],["), 1 and 6 ("],["▲"],["), 2 and 3 ("],["●",GRAY],["), 2 and 4 ("],["+"],["), 2 and 5 ("],["△"],["), 2 and 6 ("],["◇"],["), 3 and 4 ("],["▲",GRAY],["), 3 and 5 (-), 3 and"]]},
 {y:2042,w:415,parts:[["6 ("],["◆"],["), 4 and 5 ("],["●"],["), 4 and 6 ("],["■",GRAY],["), 5 and 6 ("],["○"],[")."]]}
];
keyLines.forEach(l=>{
  const t = svg.append("text").attr("x",88).attr("y",l.y).attr("font-size",23).attr("fill","#222").style("font-family",'"Liberation Serif","DejaVu Sans",serif');
  fitText(t,l.w);
  l.parts.forEach(pt=>t.append("tspan").attr("fill",pt[1]||"#222").text(pt[0]));
});
</script>
</body></html>
